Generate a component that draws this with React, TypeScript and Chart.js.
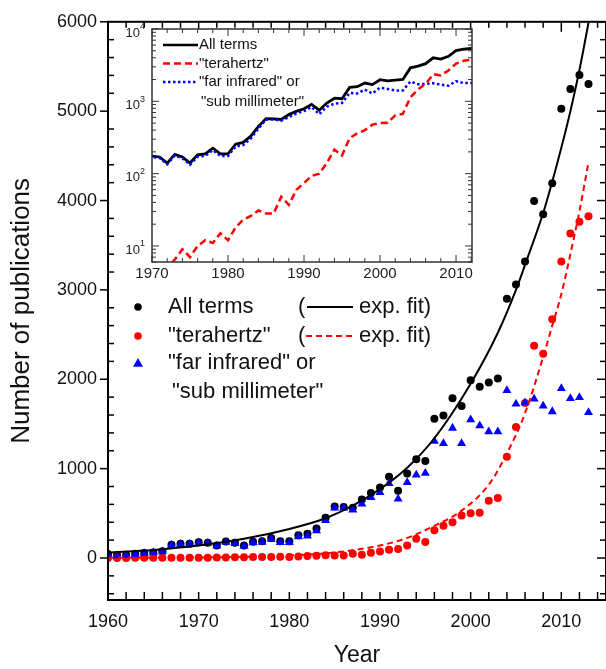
import { useEffect, useRef } from 'react';
import { Chart, registerables } from 'chart.js';

Chart.register(...registerables);

const FONT = '"Liberation Sans", Arial, Helvetica, sans-serif';

const years = [
  1960, 1961, 1962, 1963, 1964, 1965, 1966, 1967, 1968, 1969,
  1970, 1971, 1972, 1973, 1974, 1975, 1976, 1977, 1978, 1979,
  1980, 1981, 1982, 1983, 1984, 1985, 1986, 1987, 1988, 1989,
  1990, 1991, 1992, 1993, 1994, 1995, 1996, 1997, 1998, 1999,
  2000, 2001, 2002, 2003, 2004, 2005, 2006, 2007, 2008, 2009,
  2010, 2011, 2012, 2013,
];

const allTerms = [
  45, 30, 33, 45, 55, 62, 75, 148, 160, 160,
  175, 170, 140, 185, 170, 140, 182, 188, 225, 188,
  188, 255, 270, 330, 450, 576, 570, 561, 655, 727,
  790, 908, 753, 945, 1104, 1085, 1558, 1595, 1787, 1702,
  1990, 1916, 1964, 2008, 2901, 3060, 3319, 3994, 3846, 4193,
  5028, 5249, 5404, 5305,
];

const terahertz = [
  1, 1, 1, 2, 2, 2, 3, 3, 3, 4,
  4, 4, 5, 6.5, 9, 7, 10, 12, 11, 15,
  12, 18, 23, 26, 31, 28, 28, 48, 37, 60,
  74, 93, 100, 140, 215, 178, 310, 360, 400, 476,
  500, 505, 640, 672, 1133, 1465, 1735, 2375, 2285, 2672,
  3319, 3632, 3762, 3824,
];

const farInfrared = [
  41, 26, 30, 41, 52, 59, 70, 144, 155, 155,
  170, 165, 135, 178, 163, 133, 172, 176, 212, 175,
  175, 238, 248, 305, 420, 560, 560, 539, 605, 679,
  734, 834, 661, 845, 930, 949, 1307, 1281, 1454, 1281,
  1547, 1480, 1414, 1414, 1875, 1724, 1739, 1780, 1702, 1639,
  1897, 1786, 1797, 1628,
];

// exponential fit curves
const allFitYears = [1960, 1965, 1970, 1975, 1980, 1984, 1987, 1990, 1993, 1996, 2000, 2003, 2005, 2006, 2008, 2009, 2010, 2011, 2012, 2013];
const allFitValues = [60, 90, 140, 215, 325, 445, 585, 770, 1010, 1340, 1950, 2520, 3000, 3280, 3860, 4210, 4590, 5000, 5460, 5990];
const thzFitYears = [1960, 1965, 1970, 1975, 1980, 1985, 1990, 1993, 1996, 1999, 2002, 2004, 2006, 2008, 2009, 2010, 2011, 2012, 2013];
const thzFitValues = [1.5, 3, 6, 13, 28, 62, 140, 225, 360, 530, 820, 1170, 1620, 2250, 2600, 2950, 3400, 3880, 4430];

const xTicksMain = [1960, 1970, 1980, 1990, 2000, 2010];
const yTicksMain = [0, 1000, 2000, 3000, 4000, 5000, 6000];
const insetXTicks = [1970, 1980, 1990, 2000, 2010];
const insetYTicks = [10, 100, 1000, 10000];
const insetYExponents = ['1', '2', '3', '4'];

const legendLabels = ['All terms', '"terahertz"', '"far infrared" or', '"sub millimeter"'];
const fitLabel = 'exp. fit)';
const insetLegendLabels = ['All terms', '"terahertz"', '"far infrared" or', '"sub millimeter"'];

const BLACK = '#000000';
const RED = '#ff0000';
const BLUE = '#0000ff';

const pts = (xs: number[], ys: number[]) => xs.map((x, i) => ({ x, y: ys[i] }));

function line(ctx: CanvasRenderingContext2D, x1: number, y1: number, x2: number, y2: number) {
  ctx.beginPath();
  ctx.moveTo(x1, y1);
  ctx.lineTo(x2, y2);
  ctx.stroke();
}

const mainDecor = {
  id: 'mainDecor',
  afterDraw(chart: any) {
    const { ctx, chartArea: a } = chart;
    const x = chart.scales.x;
    const y = chart.scales.y;
    ctx.save();
    ctx.strokeStyle = '#000';
    ctx.lineWidth = 2;
    ctx.strokeRect(a.left, a.top, a.right - a.left, a.bottom - a.top);
    ctx.lineWidth = 1.5;
    for (let v = 1960; v <= x.max; v += 2) {
      const px = x.getPixelForValue(v);
      const major = v % 10 === 0;
      line(ctx, px, a.bottom, px, a.bottom - 8);
      line(ctx, px, a.top, px, a.top + (major ? 10 : 6));
    }
    for (let v = -400; v <= 6000; v += 200) {
      const py = y.getPixelForValue(v);
      const major = v % 1000 === 0;
      if (major) line(ctx, a.left - 8, py, a.left, py);
      else line(ctx, a.left, py, a.left + 6, py);
      line(ctx, a.right, py, a.right - (major ? 9 : 6), py);
    }

    // legend
    ctx.font = `22px ${FONT}`;
    ctx.textBaseline = 'middle';
    const rows = [307, 336, 363, 392];
    ctx.fillStyle = BLACK;
    ctx.beginPath();
    ctx.arc(138, rows[0], 3.8, 0, Math.PI * 2);
    ctx.fill();
    ctx.fillStyle = RED;
    ctx.beginPath();
    ctx.arc(138, rows[1], 3.8, 0, Math.PI * 2);
    ctx.fill();
    ctx.fillStyle = BLUE;
    ctx.beginPath();
    ctx.moveTo(138, rows[2] - 5);
    ctx.lineTo(143, rows[2] + 3.8);
    ctx.lineTo(133, rows[2] + 3.8);
    ctx.closePath();
    ctx.fill();

    ctx.fillStyle = '#111';
    ctx.fillText(legendLabels[0], 168, rows[0]);
    ctx.fillText(legendLabels[1], 168, rows[1]);
    ctx.fillText(legendLabels[2], 168, rows[2]);
    ctx.fillText(legendLabels[3], 172, rows[3]);
    ctx.fillText('(', 298, rows[0]);
    ctx.fillText('(', 298, rows[1]);
    ctx.fillText(fitLabel, 359, rows[0]);
    ctx.fillText(fitLabel, 359, rows[1]);

    ctx.strokeStyle = BLACK;
    ctx.lineWidth = 2;
    line(ctx, 307, rows[0], 353, rows[0]);
    ctx.strokeStyle = RED;
    ctx.setLineDash([6, 4]);
    line(ctx, 306, rows[1], 352, rows[1]);
    ctx.setLineDash([]);
    ctx.restore();
  },
};

const insetDecor = {
  id: 'insetDecor',
  beforeDraw(chart: any) {
    const { ctx, chartArea: a } = chart;
    ctx.save();
    ctx.fillStyle = '#fff';
    ctx.fillRect(a.left, a.top, a.right - a.left, a.bottom - a.top);
    ctx.restore();
  },
  afterDraw(chart: any) {
    const { ctx, chartArea: a } = chart;
    const x = chart.scales.x;
    const y = chart.scales.y;
    ctx.save();
    ctx.strokeStyle = '#333';
    ctx.lineWidth = 1.5;
    ctx.strokeRect(a.left, a.top, a.right - a.left, a.bottom - a.top);
    ctx.lineWidth = 1;
    for (let v = 1970; v <= x.max; v += 2) {
      const px = x.getPixelForValue(v);
      const len = v % 10 === 0 ? 7 : 4;
      line(ctx, px, a.bottom, px, a.bottom - len);
      line(ctx, px, a.top, px, a.top + len);
    }
    for (let d = 1; d <= 10000; d *= 10) {
      for (let m = 1; m < 10; m++) {
        const v = d * m;
        if (v < y.min || v > y.max) continue;
        const py = y.getPixelForValue(v);
        const len = m === 1 ? 7 : 4;
        line(ctx, a.left, py, a.left + len, py);
        line(ctx, a.right, py, a.right - len, py);
      }
    }
    // y labels 10^n
    ctx.fillStyle = '#222';
    ctx.textBaseline = 'middle';
    ctx.textAlign = 'right';
    insetYTicks.forEach((v, i) => {
      const py = y.getPixelForValue(v);
      ctx.font = `9px ${FONT}`;
      const ew = ctx.measureText(insetYExponents[i]).width;
      ctx.fillText(insetYExponents[i], a.left - 7, py - 2);
      ctx.font = `13px ${FONT}`;
      ctx.fillText('10', a.left - 7 - ew, py + 4);
    });

    // legend
    ctx.textAlign = 'left';
    ctx.font = `15px ${FONT}`;
    const rows = [31, 49.5, 68, 87.5];
    ctx.lineWidth = 2.5;
    ctx.strokeStyle = BLACK;
    line(ctx, 63, rows[0], 98, rows[0]);
    ctx.strokeStyle = RED;
    ctx.setLineDash([7, 4]);
    line(ctx, 63, rows[1], 98, rows[1]);
    ctx.strokeStyle = BLUE;
    ctx.setLineDash([2.5, 2.5]);
    line(ctx, 63, rows[2], 98, rows[2]);
    ctx.setLineDash([]);
    ctx.fillStyle = '#111';
    ctx.fillText(insetLegendLabels[0], 99, rows[0]);
    ctx.fillText(insetLegendLabels[1], 99, rows[1]);
    ctx.fillText(insetLegendLabels[2], 99, rows[2]);
    ctx.fillText(insetLegendLabels[3], 101, rows[3]);
    ctx.restore();
  },
};

export default function App() {
  const mainRef = useRef<HTMLCanvasElement>(null);
  const insetRef = useRef<HTMLCanvasElement>(null);

  useEffect(() => {
    const mainChart = new Chart(mainRef.current as HTMLCanvasElement, {
      type: 'scatter',
      data: {
        datasets: [
          {
            type: 'line',
            data: pts(allFitYears, allFitValues),
            borderColor: BLACK,
            borderWidth: 2,
            pointRadius: 0,
            cubicInterpolationMode: 'monotone',
            fill: false,
            order: 0,
          } as any,
          {
            type: 'line',
            data: pts(thzFitYears, thzFitValues),
            borderColor: RED,
            borderWidth: 2,
            borderDash: [6, 4],
            pointRadius: 0,
            cubicInterpolationMode: 'monotone',
            fill: false,
            order: 1,
          } as any,
          {
            data: pts(years, farInfrared),
            pointStyle: 'triangle',
            pointRadius: 5.2,
            backgroundColor: BLUE,
            borderColor: BLUE,
            borderWidth: 0,
            order: 2,
          },
          {
            data: pts(years, terahertz),
            pointRadius: 4,
            backgroundColor: RED,
            borderColor: RED,
            borderWidth: 0,
            order: 3,
          },
          {
            data: pts(years, allTerms),
            pointRadius: 4,
            backgroundColor: BLACK,
            borderColor: BLACK,
            borderWidth: 0,
            order: 4,
          },
        ],
      },
      options: {
        animation: false,
        responsive: false,
        events: [],
        layout: { autoPadding: false, padding: { top: 15, right: 0, left: 0, bottom: 0 } },
        plugins: { legend: { display: false }, tooltip: { enabled: false } },
        scales: {
          x: {
            type: 'linear',
            min: 1960,
            max: 2014.93,
            grid: { display: false, drawTicks: false },
            border: { display: false },
            afterBuildTicks: (s: any) => {
              s.ticks = xTicksMain.map((v) => ({ value: v }));
            },
            afterFit: (s: any) => {
              s.height = 69;
              s.paddingLeft = 0;
              s.paddingRight = 0;
            },
            ticks: {
              font: { size: 18, family: FONT },
              color: '#111',
              padding: 11,
              maxRotation: 0,
              autoSkip: false,
              callback: (v: any) => String(v),
            },
            title: {
              display: true,
              text: 'Year',
              font: { size: 23, family: FONT },
              color: '#111',
              padding: 0,
            },
          },
          y: {
            type: 'linear',
            min: -470,
            max: 6000,
            grid: { display: false, drawTicks: false },
            border: { display: false },
            afterBuildTicks: (s: any) => {
              s.ticks = yTicksMain.map((v) => ({ value: v }));
            },
            afterFit: (s: any) => {
              s.width = 108;
            },
            ticks: {
              font: { size: 18, family: FONT },
              color: '#111',
              padding: 11,
              autoSkip: false,
              callback: (v: any) => String(v),
            },
            title: {
              display: true,
              text: 'Number of publications',
              font: { size: 26, family: FONT },
              color: '#111',
              padding: { top: 6, bottom: 0 },
            },
          },
        },
      },
      plugins: [mainDecor],
    } as any);

    const insetChart = new Chart(insetRef.current as HTMLCanvasElement, {
      type: 'line',
      data: {
        datasets: [
          {
            data: pts(years, terahertz),
            borderColor: RED,
            borderWidth: 2.5,
            borderDash: [7, 4],
            pointRadius: 0,
            fill: false,
            order: 0,
          },
          {
            data: pts(years, farInfrared),
            borderColor: BLUE,
            borderWidth: 2.5,
            borderDash: [2.5, 2.5],
            pointRadius: 0,
            fill: false,
            order: 1,
          },
          {
            data: pts(years, allTerms),
            borderColor: BLACK,
            borderWidth: 2.8,
            pointRadius: 0,
            fill: false,
            order: 2,
          },
        ],
      },
      options: {
        animation: false,
        responsive: false,
        events: [],
        layout: { autoPadding: false, padding: { top: 15, right: 18, left: 0, bottom: 0 } },
        plugins: { legend: { display: false }, tooltip: { enabled: false } },
        scales: {
          x: {
            type: 'linear',
            min: 1970,
            max: 2012.1,
            grid: { display: false, drawTicks: false },
            border: { display: false },
            afterBuildTicks: (s: any) => {
              s.ticks = insetXTicks.map((v) => ({ value: v }));
            },
            afterFit: (s: any) => {
              s.height = 32;
              s.paddingLeft = 0;
              s.paddingRight = 0;
            },
            ticks: {
              font: { size: 15, family: FONT },
              color: '#222',
              padding: 3,
              maxRotation: 0,
              autoSkip: false,
              callback: (v: any) => String(v),
            },
          },
          y: {
            type: 'logarithmic',
            min: 6,
            max: 10000,
            grid: { display: false, drawTicks: false },
            border: { display: false },
            ticks: { display: false },
            afterFit: (s: any) => {
              s.width = 52;
            },
          },
        },
      },
      plugins: [insetDecor],
    } as any);

    return () => {
      mainChart.destroy();
      insetChart.destroy();
    };
  }, []);

  return (
    <div style={{ position: 'absolute', left: 0, top: 0, width: 606, height: 669, background: '#fff' }}>
      <canvas ref={mainRef} width={606} height={669} style={{ position: 'absolute', left: 0, top: 0 }} />
      <canvas ref={insetRef} width={390} height={280} style={{ position: 'absolute', left: 100, top: 14 }} />
    </div>
  );
}
